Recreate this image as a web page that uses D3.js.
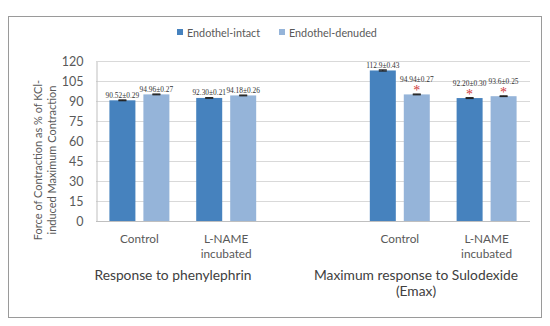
<!DOCTYPE html>
<html>
<head>
<meta charset="utf-8">
<script src="https://cdn.jsdelivr.net/npm/d3@7"></script>
<style>
  body { margin: 0; background: #fff; }
  svg text { font-family: Lato, "Open Sans", sans-serif; }
</style>
</head>
<body>
<div id="chart"></div>
<script>
// categories (empty slot separates the two experiments)
var categories = [["Control"], ["L-NAME", "incubated"], [], ["Control"], ["L-NAME", "incubated"]];
var seriesNames = ["Endothel-intact", "Endothel-denuded"];
var intact = [90.52, 92.30, null, 112.9, 92.20];
var denuded = [94.96, 94.18, null, 94.94, 93.6];
var intactSem = [0.29, 0.21, null, 0.43, 0.30];
var denudedSem = [0.27, 0.26, null, 0.27, 0.25];
var intactLabels = ["90.52±0.29", "92.30±0.21", "", "112.9±0.43", "92.20±0.30"];
var denudedLabels = ["94.96±0.27", "94.18±0.26", "", "94.94±0.27", "93.6±0.25"];
var intactSig = [false, false, false, false, true];
var denudedSig = [false, false, false, true, true];
var groupTitles = [["Response to phenylephrin"], ["Maximum response to Sulodexide", "(Emax)"]];
var yTicks = [0, 15, 30, 45, 60, 75, 90, 105, 120];

var width = 550, height = 326;
var colors = ["#4682be", "#95b4d9"];

var svg = d3.select('#chart').append('svg')
      .attr('width', width)
      .attr('height', height);

// outer frame
svg.append('rect')
      .attr('x', 8.5).attr('y', 16.5)
      .attr('width', 533).attr('height', 301)
      .attr('fill', 'none')
      .attr('stroke', '#9a9a9a');

var plot = { left: 96, right: 530, top: 61, bottom: 221 };

var y = d3.scaleLinear().domain([0, 120]).range([plot.bottom, plot.top]);
var x0 = d3.scaleBand().domain(d3.range(categories.length))
      .range([plot.left, plot.right])
      .paddingInner(0.309).paddingOuter(0.1545);
var x1 = d3.scaleBand().domain([0, 1]).range([0, x0.bandwidth()]).paddingInner(0.235);

// gridlines
svg.append('g').selectAll('line')
      .data(yTicks.slice(1))
      .enter().append('line')
      .attr('x1', plot.left).attr('x2', plot.right)
      .attr('y1', function (d) { return Math.round(y(d)) + 0.5; })
      .attr('y2', function (d) { return Math.round(y(d)) + 0.5; })
      .attr('stroke', '#d9d9d9');

// y axis
var yAxis = svg.append('g')
      .attr('transform', 'translate(' + (plot.left + 0.5) + ',0.5)')
      .call(d3.axisLeft(y).tickValues(yTicks).tickSize(0).tickPadding(13));
yAxis.select('.domain').attr('stroke', '#bfbfbf');
yAxis.selectAll('text')
      .attr('fill', '#595959')
      .style('font-size', '12.5px');

// bottom axis line
svg.append('line')
      .attr('x1', plot.left).attr('x2', plot.right)
      .attr('y1', plot.bottom + 0.5).attr('y2', plot.bottom + 0.5)
      .attr('stroke', '#bfbfbf');

// bars
var series = [
      { vals: intact, sem: intactSem, labels: intactLabels, sig: intactSig },
      { vals: denuded, sem: denudedSem, labels: denudedLabels, sig: denudedSig }
];
var barData = [];
series.forEach(function (s, si) {
      s.vals.forEach(function (v, i) {
            if (v == null) return;
            barData.push({ cat: i, s: si, v: v, sem: s.sem[i], label: s.labels[i], sig: s.sig[i] });
      });
});

var bars = svg.append('g').selectAll('g')
      .data(barData)
      .enter().append('g')
      .attr('transform', function (d) { return 'translate(' + (x0(d.cat) + x1(d.s)) + ',0)'; });

bars.append('rect')
      .attr('x', 0)
      .attr('width', x1.bandwidth())
      .attr('y', function (d) { return y(d.v); })
      .attr('height', function (d) { return y(0) - y(d.v); })
      .attr('fill', function (d) { return colors[d.s]; });

// error bars
var bw = x1.bandwidth();
bars.append('line')
      .attr('x1', bw / 2).attr('x2', bw / 2)
      .attr('y1', function (d) { return y(d.v + d.sem); })
      .attr('y2', function (d) { return y(d.v - d.sem); })
      .attr('stroke', '#222');
bars.append('line')
      .attr('x1', bw / 2 - 4).attr('x2', bw / 2 + 4)
      .attr('y1', function (d) { return y(d.v + d.sem); })
      .attr('y2', function (d) { return y(d.v + d.sem); })
      .attr('stroke', '#222').attr('stroke-width', 1.2);
bars.append('line')
      .attr('x1', bw / 2 - 4).attr('x2', bw / 2 + 4)
      .attr('y1', function (d) { return y(d.v - d.sem); })
      .attr('y2', function (d) { return y(d.v - d.sem); })
      .attr('stroke', '#222').attr('stroke-width', 1.2);

// value labels
bars.append('text')
      .attr('x', bw / 2)
      .attr('y', function (d) { return y(d.v) - (d.sig ? 12 : 2.5); })
      .attr('text-anchor', 'middle')
      .style('font-family', '"Liberation Serif", "Times New Roman", serif')
      .style('font-size', '7.4px')
      .attr('fill', '#333')
      .text(function (d) { return d.label; });

// significance asterisks
bars.filter(function (d) { return d.sig; })
      .append('text')
      .attr('x', bw / 2)
      .attr('y', function (d) { return y(d.v) + 1; })
      .attr('text-anchor', 'middle')
      .style('font-family', '"Liberation Serif", "Times New Roman", serif')
      .style('font-size', '14px')
      .attr('fill', '#d0393a')
      .text('*');

// category labels
var catG = svg.append('g').selectAll('text')
      .data(categories)
      .enter().append('text')
      .attr('x', function (d, i) { return x0(i) + x0.bandwidth() / 2; })
      .attr('y', 243)
      .attr('text-anchor', 'middle')
      .attr('fill', '#595959')
      .style('font-size', '11.8px');
catG.selectAll('tspan')
      .data(function (d) { return d; })
      .enter().append('tspan')
      .attr('x', function () { return d3.select(this.parentNode).attr('x'); })
      .attr('dy', function (d, i) { return i ? 15 : 0; })
      .text(function (d) { return d; });

// group titles
var groupX = [173, 416];
var gt = svg.append('g').selectAll('text')
      .data(groupTitles)
      .enter().append('text')
      .attr('x', function (d, i) { return groupX[i]; })
      .attr('y', 280)
      .attr('text-anchor', 'middle')
      .attr('fill', '#404040')
      .style('font-size', '13.8px');
gt.selectAll('tspan')
      .data(function (d) { return d; })
      .enter().append('tspan')
      .attr('x', function () { return d3.select(this.parentNode).attr('x'); })
      .attr('dy', function (d, i) { return i ? 16 : 0; })
      .text(function (d) { return d; });

// y axis title
var yt = svg.append('text')
      .attr('transform', 'translate(38,160) rotate(-90)')
      .attr('text-anchor', 'middle')
      .attr('fill', '#595959')
      .style('font-size', '11px');
yt.append('tspan').attr('x', 0).attr('dy', 4).text('Force of Contraction as % of KCl-');
yt.append('tspan').attr('x', 0).attr('dy', 13.5).text('induced Maximum Contraction');

// legend
var legendX = [177, 279];
var lg = svg.append('g').selectAll('g')
      .data(seriesNames)
      .enter().append('g')
      .attr('transform', function (d, i) { return 'translate(' + legendX[i] + ',29)'; });
lg.append('rect')
      .attr('width', 6).attr('height', 6)
      .attr('fill', function (d, i) { return colors[i]; });
lg.append('text')
      .attr('x', 10).attr('y', 7.5)
      .attr('fill', '#595959')
      .style('font-size', '10.8px')
      .text(function (d) { return d; });
</script>
</body>
</html>
